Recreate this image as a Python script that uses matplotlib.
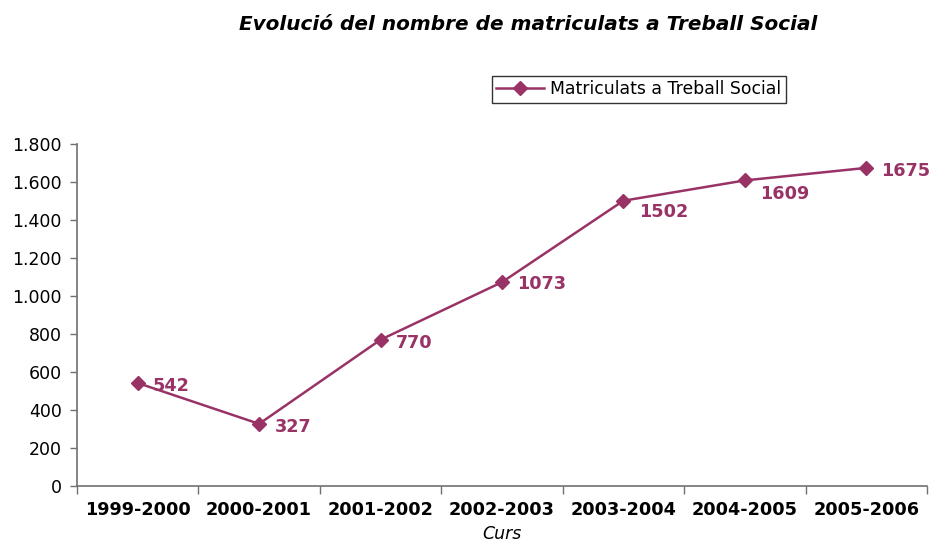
import matplotlib
matplotlib.use("Agg")
import matplotlib.pyplot as plt
import numpy as np
from matplotlib.ticker import FuncFormatter

cursos = ["1999-2000", "2000-2001", "2001-2002", "2002-2003",
          "2003-2004", "2004-2005", "2005-2006"]
matriculats = [542, 327, 770, 1073, 1502, 1609, 1675]

color = "#993366"
# label offsets in points (right, down)
label_dy = [-2, -2, -2, -1, -8, -10, -2]

fig = plt.figure(figsize=(9.33, 5.46), dpi=100)
ax = fig.add_axes([0.0825, 0.110, 0.911, 0.626])

x = np.arange(len(cursos))
ax.plot(x, matriculats, color=color, lw=1.8, marker="D", ms=7.5,
        label="Matriculats a Treball Social")

for xi, v, dy in zip(x, matriculats, label_dy):
    ax.annotate(str(v), (xi, v), xytext=(11, dy), textcoords="offset points",
                ha="left", va="center", color=color, fontsize=12.7,
                fontweight="bold")

ax.set_xlim(-0.5, len(cursos) - 0.5)
ax.set_ylim(0, 1800)
ax.set_yticks(np.arange(0, 1801, 200))
ax.yaxis.set_major_formatter(FuncFormatter(lambda v, p: f"{int(v):,}".replace(",", ".")))
ax.tick_params(axis="y", labelsize=12.5, length=5, width=1, color="#707070", pad=6)

ax.set_xticks(np.arange(-0.5, len(cursos), 1.0))
ax.set_xticklabels([])
ax.set_xticks(x, minor=True)
ax.set_xticklabels(cursos, minor=True, fontsize=12.7, fontweight="bold")
ax.tick_params(axis="x", which="major", length=6, width=1, color="#707070")
ax.tick_params(axis="x", which="minor", length=0, pad=11)

for s in ["top", "right"]:
    ax.spines[s].set_visible(False)
for s in ["left", "bottom"]:
    ax.spines[s].set_color("#707070")
    ax.spines[s].set_linewidth(1.2)

ax.set_xlabel("Curs", fontstyle="italic", fontsize=12.5, labelpad=4)

fig.text(0.566, 0.955, "Evolució del nombre de matriculats a Treball Social",
         ha="center", va="center", fontsize=14.4, fontweight="bold", fontstyle="italic")

leg = ax.legend(loc="center", bbox_to_anchor=(0.661, 1.16), fontsize=12.4,
                frameon=True, fancybox=False, edgecolor="black",
                handlelength=2.8, borderpad=0.25, handletextpad=0.35)
leg.get_frame().set_linewidth(1.0)

fig.savefig("out.png", dpi=100)
